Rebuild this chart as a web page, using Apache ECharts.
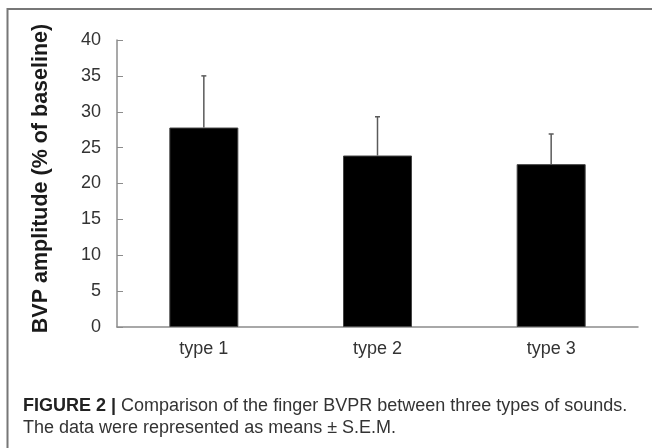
<!DOCTYPE html>
<html>
<head>
<meta charset="utf-8">
<script src="https://cdn.jsdelivr.net/npm/echarts@6/dist/echarts.min.js"></script>
<style>
html,body{margin:0;padding:0;background:#fff;}
#chart{width:652px;height:448px;}
</style>
</head>
<body>
<div id="chart"></div>
<script>
const categories = ['type 1', 'type 2', 'type 3'];
const means = [27.8, 23.9, 22.7];
const sems = [7.2, 5.4, 4.2];
const yTicks = [0, 5, 10, 15, 20, 25, 30, 35, 40];
const yTitle = 'BVP amplitude (% of baseline)';
const captionBold = 'FIGURE 2 |';
const captionLine1 = ' Comparison of the finger BVPR between three types of sounds.';
const captionLine2 = 'The data were represented as means \u00b1 S.E.M.';

const chart = echarts.init(document.getElementById('chart'), null, {renderer: 'canvas'});
const axisGray = '#8c8c8c';
const option = {
  animation: false,
  backgroundColor: '#fff',
  grid: {left: 117, right: 14, top: 40, bottom: 121, containLabel: false},
  xAxis: {
    type: 'category',
    data: categories,
    axisLine: {lineStyle: {color: axisGray, width: 1.5}},
    axisTick: {inside: true, length: 5, lineStyle: {color: axisGray, width: 1}},
    axisLabel: {color: '#333', fontFamily: 'Liberation Sans, Arial, sans-serif', fontSize: 18, margin: 13},
    splitLine: {show: false}
  },
  yAxis: {
    type: 'value',
    min: yTicks[0],
    max: yTicks[yTicks.length - 1],
    interval: yTicks[1] - yTicks[0],
    name: yTitle,
    nameLocation: 'middle',
    nameGap: 65,
    nameTextStyle: {color: '#1a1a1a', fontFamily: 'Liberation Sans, Arial, sans-serif', fontSize: 21.5, fontWeight: 'bold', padding: [0, 0, 0, 10]},
    axisLine: {show: true, lineStyle: {color: axisGray, width: 1.5}},
    axisTick: {show: true, inside: true, length: 6, lineStyle: {color: axisGray, width: 1}},
    axisLabel: {color: '#333', fontFamily: 'Liberation Sans, Arial, sans-serif', fontSize: 18, margin: 16},
    splitLine: {show: false}
  },
  series: [
    {
      type: 'bar',
      data: means,
      barWidth: 69,
      itemStyle: {color: '#000', borderColor: '#444', borderWidth: 1}
    },
    {
      type: 'custom',
      data: means.map((m, i) => [i, m, m + sems[i]]),
      z: 1,
      renderItem: function (params, api) {
        const x = api.value(0);
        const p0 = api.coord([x, api.value(1)]);
        const p1 = api.coord([x, api.value(2)]);
        const cap = 2.5;
        return {
          type: 'group',
          children: [
            {type: 'line', shape: {x1: p0[0], y1: p0[1], x2: p1[0], y2: p1[1]}, style: {stroke: '#5a5a5a', lineWidth: 1.5}},
            {type: 'line', shape: {x1: p1[0] - cap, y1: p1[1], x2: p1[0] + cap, y2: p1[1]}, style: {stroke: '#5a5a5a', lineWidth: 1.5}}
          ]
        };
      }
    }
  ],
  graphic: [
    {type: 'polyline', shape: {points: [[7.5, 448], [7.5, 9], [652, 9]]}, style: {stroke: '#777', lineWidth: 2, fill: null}},
    {
      type: 'text', left: 23, top: 395,
      style: {
        rich: {
          b: {fontWeight: 'bold', fontSize: 18, fill: '#222', fontFamily: 'Liberation Sans, Arial, sans-serif'},
          r: {fontSize: 18, fill: '#333', fontFamily: 'Liberation Sans, Arial, sans-serif'}
        },
        text: '{b|' + captionBold + '}{r|' + captionLine1 + '}\n{r|' + captionLine2 + '}',
        lineHeight: 22
      }
    }
  ]
};
chart.setOption(option);
</script>
</body>
</html>
